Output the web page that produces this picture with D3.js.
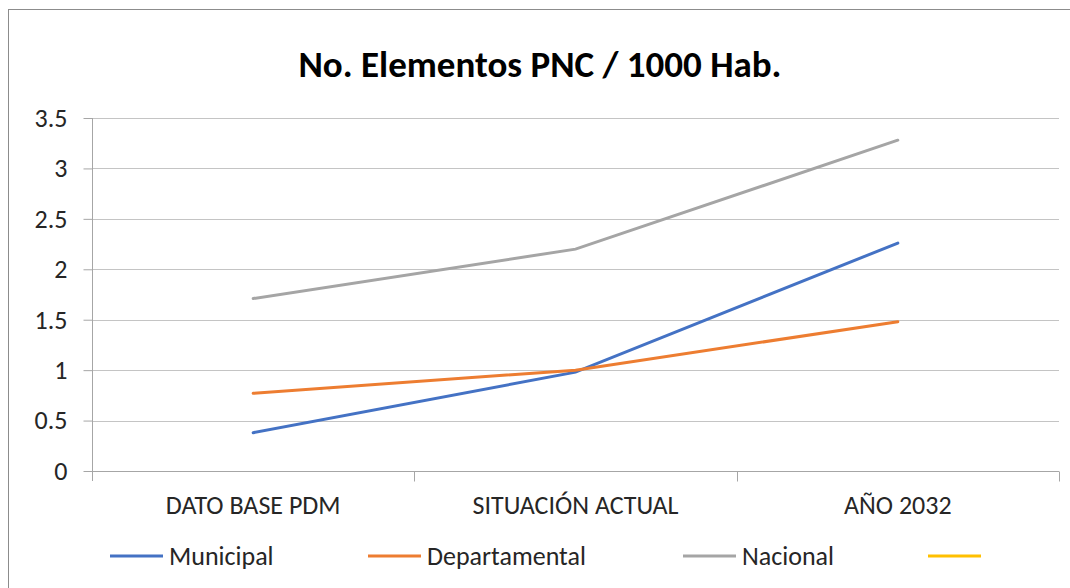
<!doctype html>
<html>
<head>
<meta charset="utf-8">
<title>No. Elementos PNC / 1000 Hab.</title>
<script src="https://d3js.org/d3.v7.min.js"></script>
<style>
  body { margin: 0; background: #fff; }
  text { font-family: Calibri, Carlito, "Liberation Sans", sans-serif; }
</style>
</head>
<body>
<script>
    var categories = ["DATO BASE PDM", "SITUACIÓN ACTUAL", "AÑO 2032"];
    var seriesNames = ["Municipal", "Departamental", "Nacional", ""];
    var municipal = [0.38, 0.98, 2.26];
    var departamental = [0.77, 1.0, 1.48];
    var nacional = [1.71, 2.2, 3.28];
    var extra = [];
    var yTicks = [0, 0.5, 1, 1.5, 2, 2.5, 3, 3.5];

    var width = 1070, height = 588;
    var plotLeft = 92, plotRight = 1059, plotTop = 118, plotBottom = 471;
    var colors = ["#4472C4", "#ED7D31", "#A5A5A5", "#FFC000"];
    var allSeries = [municipal, departamental, nacional, extra];
    var font = "Calibri, Carlito, 'Liberation Sans', sans-serif";

    var svg = d3.select("body").append("svg")
        .attr("width", width)
        .attr("height", height);

    // chart frame
    svg.append("rect")
        .attr("x", 8.5).attr("y", 9.5)
        .attr("width", 1080).attr("height", 600)
        .attr("fill", "#fff")
        .attr("stroke", "#8c8c8c");

    var x = d3.scaleBand().domain(categories).range([plotLeft, plotRight]);
    var y = d3.scaleLinear().domain([0, 3.5]).range([plotBottom, plotTop]);

    // gridlines
    svg.append("g").selectAll("line")
        .data(yTicks.filter(function(d) { return d > 0; }))
        .enter().append("line")
        .attr("x1", plotLeft).attr("x2", plotRight)
        .attr("y1", function(d) { return Math.round(y(d)) + 0.5; })
        .attr("y2", function(d) { return Math.round(y(d)) + 0.5; })
        .attr("stroke", "#c4c4c4");

    // y axis
    var yAxis = d3.axisLeft(y).tickValues(yTicks).tickSize(9).tickPadding(16)
        .tickFormat(function(d) { return String(d); });
    var gy = svg.append("g").attr("transform", "translate(" + (plotLeft + 0.5) + ",0)").call(yAxis);
    gy.select(".domain").attr("d", "M0," + plotTop + "V" + (plotBottom + 10)).attr("stroke", "#a6a6a6");
    gy.selectAll("line").attr("stroke", "#a6a6a6");
    gy.selectAll("text").attr("font-size", 26).attr("fill", "#262626").style("font-family", font);

    // x axis with ticks at band boundaries
    var xAxis = d3.axisBottom(x).tickSize(0).tickPadding(24);
    var gx = svg.append("g").attr("transform", "translate(0," + (plotBottom + 0.5) + ")").call(xAxis);
    gx.select(".domain").attr("d", "M" + plotLeft + ",0H" + plotRight).attr("stroke", "#a6a6a6");
    gx.selectAll("text").attr("font-size", 26).attr("fill", "#262626").style("font-family", font);
    var bounds = categories.map(function(c) { return x(c); }).concat([plotRight]).slice(1);
    gx.selectAll(".bound").data(bounds).enter().append("line")
        .attr("x1", function(d) { return Math.round(d) + 0.5; })
        .attr("x2", function(d) { return Math.round(d) + 0.5; })
        .attr("y1", 0).attr("y2", 10)
        .attr("stroke", "#a6a6a6");

    // lines
    var line = d3.line()
        .x(function(d, i) { return x(categories[i]) + x.bandwidth() / 2; })
        .y(function(d) { return y(d); });

    svg.append("g").selectAll("path")
        .data(allSeries)
        .enter().append("path")
        .attr("d", function(d) { return d.length ? line(d) : null; })
        .attr("fill", "none")
        .attr("stroke", function(d, i) { return colors[i]; })
        .attr("stroke-width", 3)
        .attr("stroke-linecap", "round");

    // title
    svg.append("text")
        .attr("x", 540).attr("y", 77)
        .attr("text-anchor", "middle")
        .attr("font-size", 37).attr("font-weight", "bold")
        .attr("fill", "#000")
        .text("No. Elementos PNC / 1000 Hab.");

    // legend
    var legendX = [110, 368, 683, 928];
    var lg = svg.append("g").selectAll("g")
        .data(seriesNames)
        .enter().append("g")
        .attr("transform", function(d, i) { return "translate(" + legendX[i] + ",556)"; });
    lg.append("line")
        .attr("x1", 0).attr("x2", 53)
        .attr("stroke", function(d, i) { return colors[i]; })
        .attr("stroke-width", 3);
    lg.append("text")
        .attr("x", 59).attr("y", 9)
        .attr("font-size", 26).attr("fill", "#262626")
        .text(function(d) { return d; });
</script>
</body>
</html>
